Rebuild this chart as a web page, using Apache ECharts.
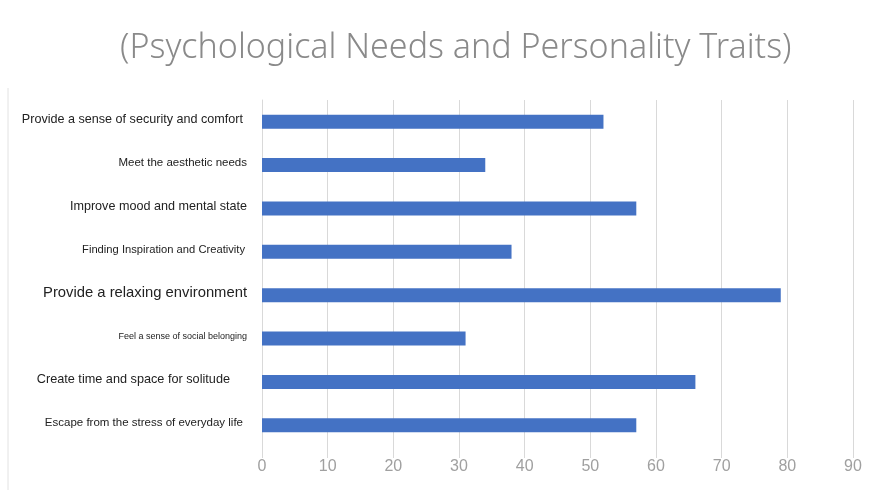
<!DOCTYPE html>
<html><head><meta charset="utf-8">
<script src="https://cdn.jsdelivr.net/npm/echarts@6/dist/echarts.min.js"></script>
<style>html,body{margin:0;padding:0;background:#fff}#c{width:880px;height:490px}</style>
</head><body><div id="c"></div>
<script>
const titleText = "(Psychological Needs and Personality Traits)";
const categories = [
  "Provide a sense of security and comfort",
  "Meet the aesthetic needs",
  "Improve mood and mental state",
  "Finding Inspiration and Creativity",
  "Provide a relaxing environment",
  "Feel a sense of social belonging",
  "Create time and space for solitude",
  "Escape from the stress of everyday life"
];
const values = [52, 34, 57, 38, 79, 31, 66, 57];
const xTicks = [0, 10, 20, 30, 40, 50, 60, 70, 80, 90];

const labelSizes = [12.6, 11.5, 12.6, 11.2, 14.8, 9, 12.7, 11.5];
const labelPad = [7, 3, 3, 5, 3, 3, 20, 7];
const rich = {};
labelSizes.forEach((s, i) => {
  rich['l' + i] = {fontSize: s, color: '#222', fontFamily: 'Liberation Sans, Arial, sans-serif', padding: [0, labelPad[i], 4, 0]};
});

const chart = echarts.init(document.getElementById('c'), null, {renderer: 'canvas'});
chart.setOption({
  backgroundColor: '#fff',
  animation: false,
  title: {
    text: titleText, left: 115, top: 26,
    textStyle: {fontFamily: 'Noto Sans, sans-serif', fontWeight: 300, fontSize: 34, color: '#8a8a8a'}
  },
  graphic: [{type: 'line', shape: {x1: 8, y1: 88, x2: 8, y2: 490}, style: {stroke: '#e2e2e2', lineWidth: 1}}],
  grid: {left: 262, right: 27, top: 100, bottom: 43, containLabel: false},
  xAxis: {
    type: 'value', min: 0, max: 90, interval: 10,
    axisLine: {show: false},
    axisTick: {show: true, length: 11, lineStyle: {color: '#d9d9d9'}},
    splitLine: {show: true, lineStyle: {color: '#d9d9d9', width: 1}},
    axisLabel: {
      margin: 12, fontSize: 16, color: '#a0a0a0', fontFamily: 'Liberation Sans, Arial, sans-serif',
      formatter: v => xTicks.includes(v) ? String(v) : ''
    }
  },
  yAxis: {
    type: 'category', inverse: true, data: categories,
    axisLine: {show: true, lineStyle: {color: '#d9d9d9'}},
    axisTick: {show: false},
    axisLabel: {
      margin: 12,
      formatter: (v, i) => '{l' + i + '|' + v + '}',
      rich: rich
    }
  },
  series: [{
    type: 'bar', data: values, barWidth: 14,
    itemStyle: {color: '#4472C4'}
  }]
});
</script></body></html>
